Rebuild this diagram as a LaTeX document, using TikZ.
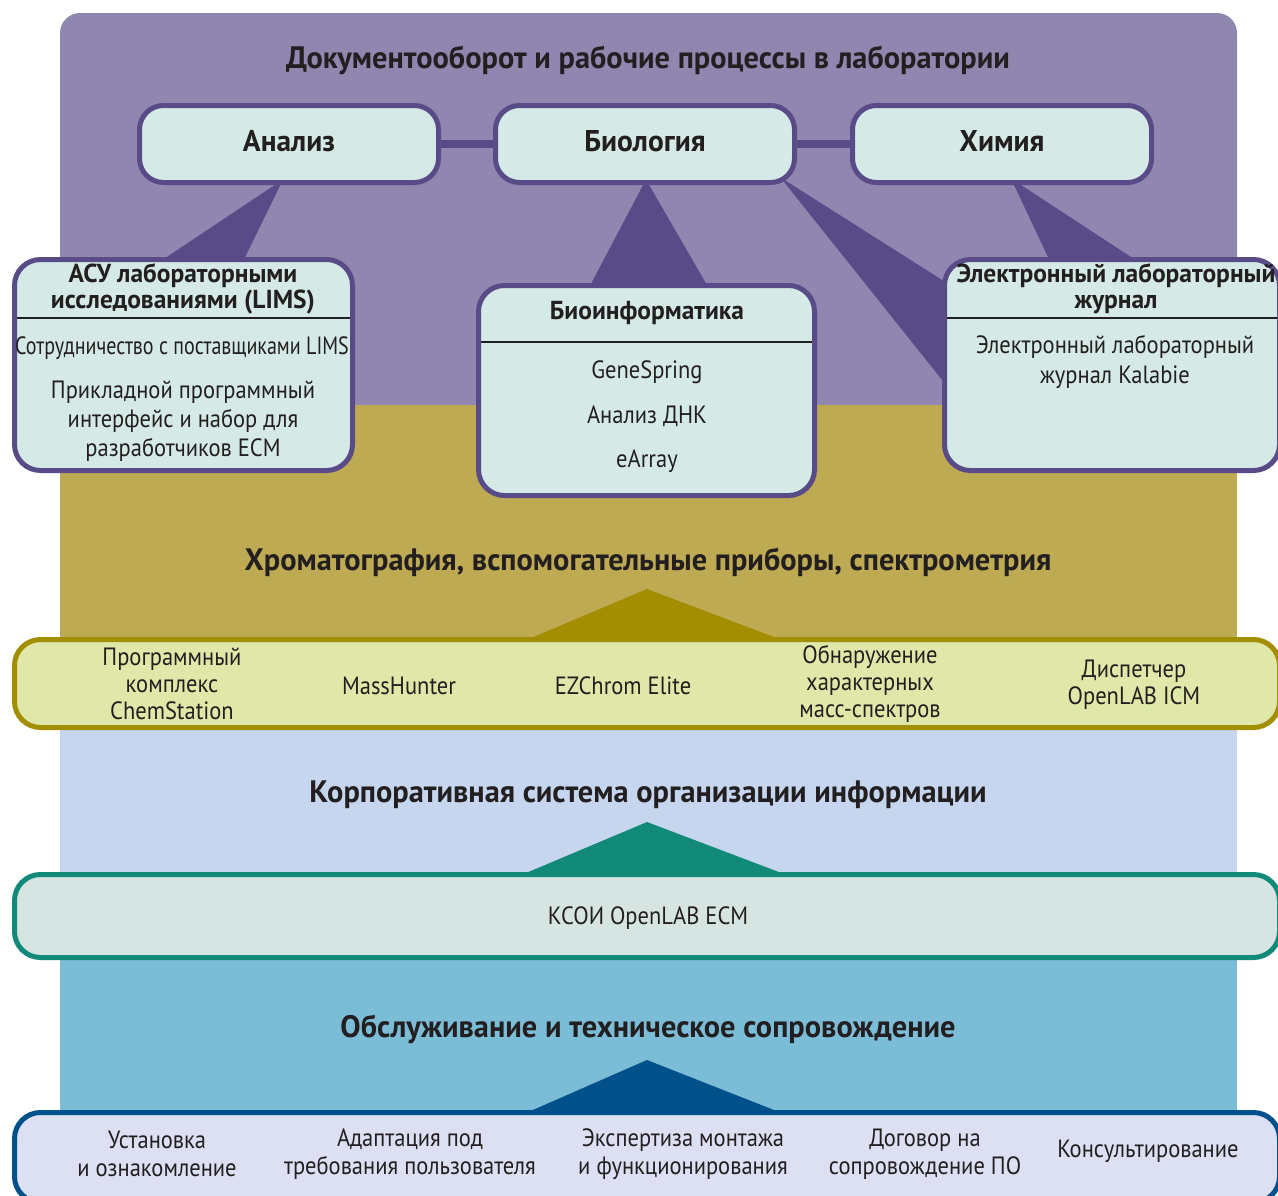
\documentclass[tikz,border=0pt]{standalone}
\usepackage{fontspec}
\usepackage{graphicx}
\setmainfont{PT Sans}[FakeStretch=0.9]
\newfontfamily\hdfont{PT Sans}[FakeStretch=0.98]
\usetikzlibrary{calc}
\pgfdeclarelayer{back}
\pgfdeclarelayer{background}
\pgfsetlayers{back,background,main}

\definecolor{bandpurple}{HTML}{9087B1}
\definecolor{labpurple}{HTML}{594B87}
\definecolor{mintbox}{HTML}{D5EAE6}
\definecolor{bandolive}{HTML}{BEAA52}
\definecolor{darkolive}{HTML}{A38D00}
\definecolor{limebox}{HTML}{DFE8A9}
\definecolor{bandsky}{HTML}{C6D6EE}
\definecolor{darkteal}{HTML}{118A7A}
\definecolor{tealbox}{HTML}{D6E5E2}
\definecolor{bandblue}{HTML}{7BBDD7}
\definecolor{darkblue}{HTML}{00518B}
\definecolor{bluebox}{HTML}{DCE0F2}
\definecolor{ink}{HTML}{231F20}

\tikzset{>=stealth,
  every node/.style={text=ink, outer sep=0pt},
  topbox/.style={draw=labpurple, line width=5pt, fill=mintbox, rounded corners=24pt,
    minimum width=299pt, minimum height=77pt, inner sep=0pt, text depth=6pt,
    font=\hdfont\bfseries\fontsize{30}{32}\selectfont},
  subbox/.style={draw=labpurple, line width=5pt, fill=mintbox, rounded corners=26pt, inner sep=0pt},
  barbox/.style={line width=5pt, rounded corners=26pt, minimum width=1265pt, inner sep=0pt},
  layertitle/.style={font=\hdfont\bfseries\fontsize{31}{33}\selectfont},
  subhead/.style={font=\hdfont\bfseries\fontsize{26}{26}\selectfont, align=center},
  entry/.style={font=\fontsize{25}{28}\selectfont, align=center},
  link/.style={draw=labpurple, line width=8pt},
  rule/.style={draw=ink, line width=2.5pt, shorten <=2.5pt, shorten >=2.5pt},
}

\begin{document}
\begin{tikzpicture}[x=1pt,y=-1pt]
\clip (0,0) rectangle (1278,1195);

\begin{pgfonlayer}{back}
\fill[bandpurple] (60,405) {[rounded corners=20pt] -- (60,13) -- (1237,13)} -- (1237,405) -- cycle;
\fill[bandolive] (60,405) rectangle (1237,684);
\fill[bandsky] (60,684) rectangle (1237,916);
\fill[bandblue] (60,916) rectangle (1237,1195);
\end{pgfonlayer}

\node[layertitle] (t-docs) at (648,60) {Документооборот и рабочие процессы в лаборатории};
\node[topbox] (anal) at (289,144) {Анализ};
\node[topbox] (bio) at (645,144) {Биология};
\node[topbox] (chem) at (1002,144) {Химия};
\draw[link] (anal) -- (bio);
\draw[link] (bio) -- (chem);

\node[subbox, minimum width=338pt, minimum height=211pt] (lims) at (183.5,365) {};
\node[subbox, minimum width=336pt, minimum height=210pt] (bioinf) at (646.5,390.5) {};
\node[subbox, minimum width=335pt, minimum height=211pt] (eln) at (1112,365) {};

\begin{pgfonlayer}{background}
\fill[labpurple] ($(anal.south)+(-6,-3)$) -- ($(lims.north)+(-26.5,4)$) -- ($(lims.north)+(58.5,4)$) -- cycle;
\fill[labpurple] ($(bio.south)+(1,-3)$) -- ($(bioinf.north)+(-58.5,4)$) -- ($(bioinf.north)+(63,4)$) -- cycle;
\fill[labpurple] ($(bio.south east)+(-14,-5)$) -- ($(eln.west)+(4,-81)$) -- ($(eln.west)+(4,23)$) -- cycle;
\fill[labpurple] ($(chem.south)+(9,-4)$) -- ($(eln.north)+(-61,4)$) -- ($(eln.north)+(29,4)$) -- cycle;
\end{pgfonlayer}

\node[subhead] (lims-head) at (183,289) {АСУ лабораторными\\исследованиями (LIMS)};
\draw[rule] (lims.west |- 0,318) -- (lims.east |- 0,318);
\node[entry] (lims-a) at (182,348) {\scalebox{0.89}[1]{Сотрудничество с поставщиками LIMS}};
\node[entry, font=\fontsize{25}{29}\selectfont] (lims-b) at (183,421) {Прикладной программный\\интерфейс и набор для\\разработчиков ECM};

\node[subhead] (bioinf-head) at (647,313) {Биоинформатика};
\draw[rule] (bioinf.west |- 0,342) -- (bioinf.east |- 0,342);
\node[entry] (gene) at (647,372) {GeneSpring};
\node[entry] (dna) at (647,416) {Анализ ДНК};
\node[entry] (earray) at (647,461) {eArray};

\node[subhead] (eln-head) at (1116,289) {Электронный лабораторный\\журнал};
\draw[rule] (eln.west |- 0,318) -- (eln.east |- 0,318);
\node[entry, font=\fontsize{25}{30}\selectfont] (kalabie) at (1115,362) {Электронный лабораторный\\журнал Kalabie};

\node[layertitle] (t-chrom) at (648,562) {Хроматография, вспомогательные приборы, спектрометрия};
\node[barbox, draw=darkolive, fill=limebox, minimum height=88pt] (instr) at (647,683.5) {};
\begin{pgfonlayer}{background}
\fill[darkolive] ($(instr.north)+(0,-50.5)$) -- ($(instr.north)+(-129,4)$) -- ($(instr.north)+(144,4)$) -- cycle;
\end{pgfonlayer}
\node[entry, font=\fontsize{25}{27}\selectfont] (chemst) at (172,684) {Программный\\комплекс\\ChemStation};
\node[entry] (mass) at (399,686) {MassHunter};
\node[entry] (ezchrom) at (623,686) {EZChrom Elite};
\node[entry, font=\fontsize{25}{27}\selectfont] (spectra) at (870,684) {Обнаружение\\характерных\\масс-спектров};
\node[entry, font=\fontsize{25}{27}\selectfont] (icm) at (1134,685) {Диспетчер\\OpenLAB ICM};

\node[layertitle] (t-ecm) at (648,795) {Корпоративная система организации информации};
\node[barbox, draw=darkteal, fill=tealbox, minimum height=83pt] (ecm) at (647,916) {};
\begin{pgfonlayer}{background}
\fill[darkteal] ($(ecm.north)+(0,-52.5)$) -- ($(ecm.north)+(-134,4)$) -- ($(ecm.north)+(149,4)$) -- cycle;
\end{pgfonlayer}
\node[entry] (ecm-txt) at (648,918) {КСОИ OpenLAB ECM};

\node[layertitle] (t-serv) at (648,1029) {Обслуживание и техническое сопровождение};
\node[barbox, draw=darkblue, fill=bluebox, minimum height=90pt] (serv) at (647,1157.5) {};
\begin{pgfonlayer}{background}
\fill[darkblue] ($(serv.north)+(0,-52.5)$) -- ($(serv.north)+(-129,4)$) -- ($(serv.north)+(143.5,4)$) -- cycle;
\end{pgfonlayer}
\node[entry] (install) at (157,1154) {Установка\\и ознакомление};
\node[entry] (adapt) at (410,1154) {Адаптация под\\требования пользователя};
\node[entry] (expert) at (683,1154) {Экспертиза монтажа\\и функционирования};
\node[entry] (contract) at (925,1154) {Договор на\\сопровождение ПО};
\node[entry] (consult) at (1148,1151) {Консультирование};
\end{tikzpicture}
\end{document}
